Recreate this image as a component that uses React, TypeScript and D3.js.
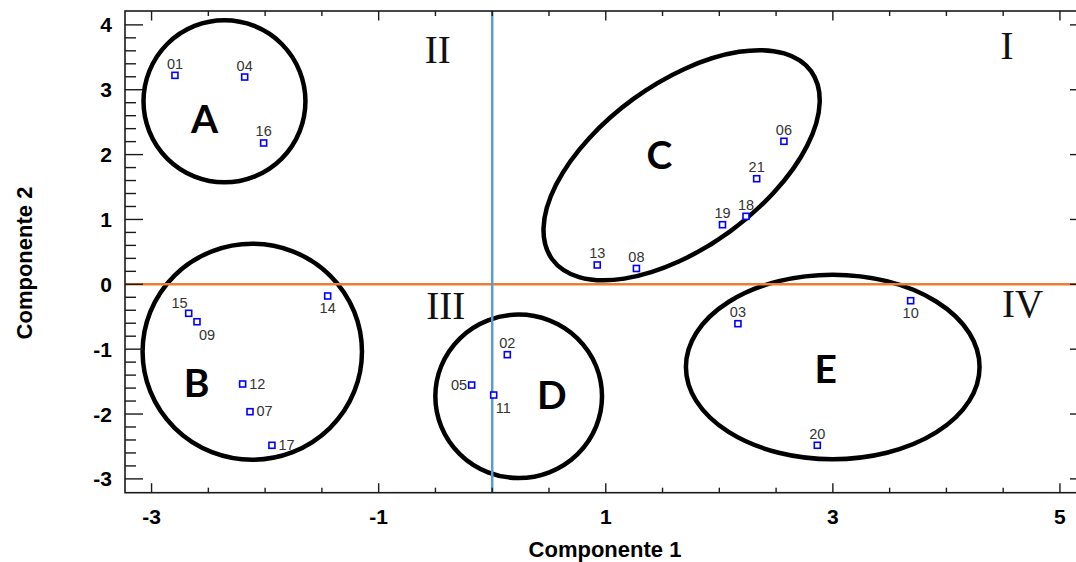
import React, { useEffect } from "react";
import * as d3 from "d3";

const W = 1076;
const H = 562;

// Sample scores on the first two principal components
const sampleIds = ["01", "02", "03", "04", "05", "06", "07", "08", "09", "10", "11", "12", "13", "14", "15", "16", "17", "18", "19", "20", "21"];
const comp1 = [-2.794, 0.133, 2.164, -2.18, -0.181, 2.569, -2.133, 1.27, -2.6, 3.685, 0.013, -2.198, 0.925, -1.449, -2.673, -2.013, -1.94, 2.235, 2.028, 2.863, 2.329];
const comp2 = [3.222, -1.085, -0.607, 3.196, -1.553, 2.205, -1.964, 0.244, -0.577, -0.253, -1.707, -1.537, 0.298, -0.18, -0.447, 2.179, -2.482, 1.048, 0.919, -2.482, 1.628];
// where each sample's id is written relative to its marker
const labelSide = ["top", "top", "top", "top", "left", "top", "right", "top", "bottomright", "bottom", "bottomright", "right", "top", "bottom", "topleft", "top", "right", "top", "top", "top", "top"];

// Cluster outlines (centre and radii in axis units, tilt in screen degrees)
const groupNames = ["A", "B", "C", "D", "E"];
const groupCx = [-2.358, -2.113, 1.668, 0.233, 2.999];
const groupCy = [2.822, -1.039, 1.836, -1.727, -1.274];
const groupRx = [0.713, 0.966, 1.409, 0.734, 1.293];
const groupRy = [1.249, 1.665, 1.264, 1.26, 1.422];
const groupTilt = [0, 0, -36, 0, 0];
const groupLetterX = [-2.534, -2.603, 1.473, 0.524, 2.937];
const groupLetterY = [2.337, -1.742, 1.778, -1.927, -1.517];

// Quadrant numerals
const quadrantNames = ["I", "II", "III", "IV"];
const quadrantX = [4.533, -0.48, -0.409, 4.67];
const quadrantY = [3.469, 3.412, -0.54, -0.5];

// Axis ticks
const xTickLabels = [-3, -1, 1, 3, 5];
const xMinorTicks = d3.range(-3, 5.001, 0.5).map((v) => +v.toFixed(2));
const yTickLabels = [-3, -2, -1, 0, 1, 2, 3, 4];
const yMinorTicks = d3.range(-3, 4.001, 0.2).map((v) => +v.toFixed(2));

const x = d3.scaleLinear().domain([-3.234, 5.247]).range([125, 1088]);
const y = d3.scaleLinear().domain([-3.213, 4.214]).range([492.7, 11]);
const kx = x(1) - x(0);
const ky = y(0) - y(1);

const sans = "'Liberation Sans', Arial, sans-serif";

function labelPos(side: string, px: number, py: number) {
  switch (side) {
    case "bottom":
      return { x: px, y: py + 17.5, anchor: "middle" };
    case "right":
      return { x: px + 6.5, y: py + 4.8, anchor: "start" };
    case "left":
      return { x: px - 4.5, y: py + 4.8, anchor: "end" };
    case "topleft":
      return { x: px - 1, y: py - 5.6, anchor: "end" };
    case "bottomright":
      return { x: px + 2, y: py + 18, anchor: "start" };
    default:
      return { x: px, y: py - 6.5, anchor: "middle" };
  }
}

export default function App() {
  useEffect(() => {
    document.body.style.margin = "0";
  }, []);

  const [x0, x1] = x.range();
  const [y0, y1] = y.range();

  return (
    <svg width={W} height={H} viewBox={`0 0 ${W} ${H}`} style={{ display: "block", background: "#fff" }}>
      {/* cluster outlines */}
      {groupNames.map((g, i) => {
        const cx = x(groupCx[i]);
        const cy = y(groupCy[i]);
        return (
          <ellipse
            key={g}
            cx={cx}
            cy={cy}
            rx={groupRx[i] * kx}
            ry={groupRy[i] * ky}
            transform={`rotate(${groupTilt[i]} ${cx} ${cy})`}
            fill="none"
            stroke="#000"
            strokeWidth={4.5}
          />
        );
      })}
      {groupNames.map((g, i) => (
        <text
          key={"l" + g}
          x={x(groupLetterX[i])}
          y={y(groupLetterY[i])}
          textAnchor="middle"
          fontFamily="Lato, 'Open Sans', sans-serif"
          fontWeight={700}
          fontSize={39}
          fill="#000"
        >
          {g}
        </text>
      ))}

      {/* reference lines through the origin */}
      <line x1={x0} x2={x1} y1={y(0)} y2={y(0)} stroke="#ED7D31" strokeWidth={2.5} />
      <line x1={x(0)} x2={x(0)} y1={y0} y2={y1} stroke="#5B9BD5" strokeWidth={2.5} />

      {/* quadrant numerals */}
      {quadrantNames.map((q, i) => (
        <text
          key={q}
          x={x(quadrantX[i])}
          y={y(quadrantY[i])}
          textAnchor="middle"
          fontFamily="'Liberation Serif', 'Times New Roman', serif"
          fontSize={39}
          fill="#111"
        >
          {q}
        </text>
      ))}

      {/* frame */}
      <rect x={x0} y={y1} width={x1 - x0} height={y0 - y1} fill="none" stroke="#1a1a1a" strokeWidth={1.6} />

      {/* x ticks, bottom and top */}
      {xMinorTicks.map((v) => {
        const major = xTickLabels.includes(v);
        const len = major ? 9.5 : 5;
        return (
          <g key={"xt" + v} stroke="#1a1a1a" strokeWidth={1.4}>
            <line x1={x(v)} x2={x(v)} y1={y0} y2={y0 - len} />
            <line x1={x(v)} x2={x(v)} y1={y1} y2={y1 + len} />
          </g>
        );
      })}
      {xTickLabels.map((v) => (
        <text key={"xl" + v} x={x(v)} y={523.5} textAnchor="middle" fontFamily={sans} fontWeight={700} fontSize={21} fill="#000">
          {v}
        </text>
      ))}

      {/* y ticks, left and right */}
      {yMinorTicks.map((v) => {
        const major = Number.isInteger(v);
        const len = major ? 18 : 11;
        return (
          <g key={"yt" + v} stroke="#1a1a1a" strokeWidth={1.4}>
            <line x1={x0} x2={x0 + len} y1={y(v)} y2={y(v)} />
            <line x1={x1} x2={x1 - len} y1={y(v)} y2={y(v)} />
          </g>
        );
      })}
      {yTickLabels.map((v) => (
        <text key={"yl" + v} x={112} y={y(v)} dy="0.36em" textAnchor="end" fontFamily={sans} fontWeight={700} fontSize={21} fill="#000">
          {v}
        </text>
      ))}

      {/* sample markers and ids */}
      {sampleIds.map((id, i) => {
        const px = x(comp1[i]);
        const py = y(comp2[i]);
        const lp = labelPos(labelSide[i], px, py);
        return (
          <g key={id}>
            <rect x={px - 3} y={py - 3} width={6} height={6} fill="#fff" stroke="#0000FF" strokeWidth={1.6} />
            <text x={lp.x} y={lp.y} textAnchor={lp.anchor as any} fontFamily={sans} fontSize={14.5} fill="#333">
              {id}
            </text>
          </g>
        );
      })}

      {/* axis titles */}
      <text x={605} y={557} textAnchor="middle" fontFamily={sans} fontWeight={700} fontSize={22} fill="#000">
        Componente 1
      </text>
      <text
        transform={`translate(32 ${263}) rotate(-90)`}
        textAnchor="middle"
        fontFamily={sans}
        fontWeight={700}
        fontSize={22}
        fill="#000"
      >
        Componente 2
      </text>
    </svg>
  );
}
